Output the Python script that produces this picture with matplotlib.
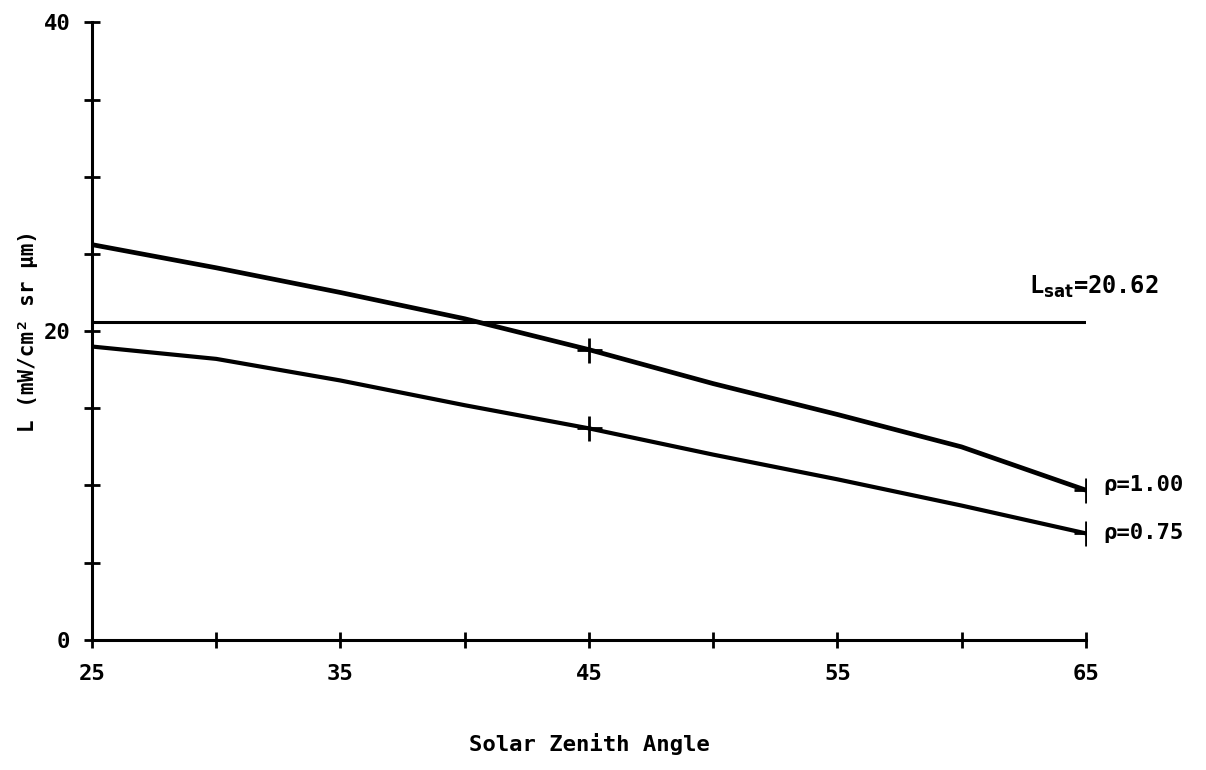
import matplotlib.pyplot as plt
from matplotlib.ticker import MultipleLocator

# solar zenith angle (deg)
angle = [25, 30, 35, 40, 45, 50, 55, 60, 65]
# radiance L (mW/cm^2 sr um)
rho_100 = [25.6, 24.1, 22.5, 20.8, 18.8, 16.6, 14.6, 12.5, 9.7]
rho_075 = [19.0, 18.2, 16.8, 15.2, 13.7, 12.0, 10.4, 8.7, 6.9]
l_sat = 20.62

mark_angles = [45, 65]
x_labels = [25, 35, 45, 55, 65]
y_labels = [0, 20, 40]

plt.rcParams['font.family'] = ['DejaVu Sans Mono']
plt.rcParams['font.weight'] = 'bold'
plt.rcParams['axes.labelweight'] = 'bold'

fig = plt.figure(figsize=(12.06, 7.7), dpi=100)
ax = fig.add_axes([0.0763, 0.169, 0.824, 0.802])

ax.plot(angle, rho_100, color='black', lw=3.4, solid_capstyle='round')
ax.plot(angle, rho_075, color='black', lw=3.0, solid_capstyle='round')
ax.plot([angle[0], angle[-1]], [l_sat, l_sat], color='black', lw=2.2)

for a in mark_angles:
    i = angle.index(a)
    ax.plot(a, rho_100[i], marker='+', ms=18, mew=2, color='black')
    ax.plot(a, rho_075[i], marker='+', ms=18, mew=2, color='black')

ax.set_xlim(25, 65)
ax.set_ylim(0, 40)
for s in ['top', 'right']:
    ax.spines[s].set_visible(False)
for s in ['left', 'bottom']:
    ax.spines[s].set_linewidth(2.2)

ax.set_xticks(x_labels)
ax.set_yticks(y_labels)
ax.xaxis.set_minor_locator(MultipleLocator(5))
ax.yaxis.set_minor_locator(MultipleLocator(5))
ax.tick_params(which='both', direction='inout', length=11, width=2)
ax.tick_params(axis='x', labelsize=16, pad=12)
ax.tick_params(axis='y', labelsize=16, pad=10)

ax.set_xlabel('Solar Zenith Angle', fontsize=16, labelpad=35)
ax.set_ylabel('L (mW/cm\u00b2 sr \u03bcm)', fontsize=15, labelpad=4)

ax.text(62.7, l_sat + 1.8, r'L$_{\mathbf{sat}}$=20.62', fontsize=17, clip_on=False)
ax.text(65.7, rho_100[-1] + 0.3, '\u03c1=1.00', fontsize=16, va='center', clip_on=False)
ax.text(65.7, rho_075[-1], '\u03c1=0.75', fontsize=16, va='center', clip_on=False)

fig.savefig('out.png', dpi=100)
